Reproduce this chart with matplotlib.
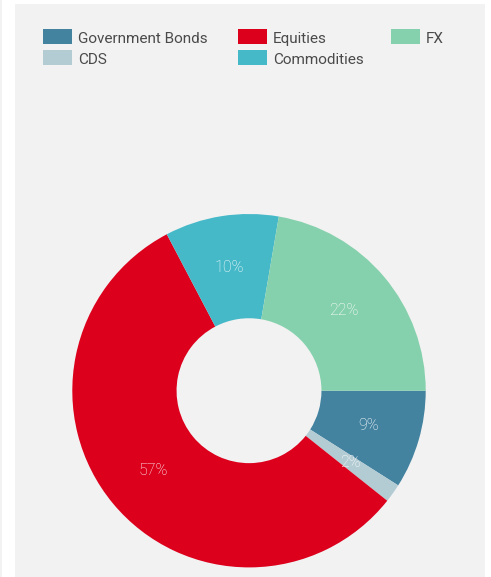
import matplotlib
matplotlib.use("Agg")
import matplotlib.pyplot as plt
from matplotlib.patches import Rectangle

categories = ["Government Bonds", "CDS", "Equities", "Commodities", "FX"]
values = [9.0, 1.7, 56.6, 10.4, 22.3]
colors = ["#4383a0", "#b3cbd3", "#dc001c", "#46b9c9", "#86d1ad"]
legend_order = ["Government Bonds", "Equities", "FX", "CDS", "Commodities"]

W, H = 491, 577
fig = plt.figure(figsize=(W / 100, H / 100), dpi=100)
fig.patch.set_facecolor("white")

def fx(px):
    return px / W

def fy(py):
    return 1 - py / H

# panel background
fig.patches.append(Rectangle((fx(15), 0), fx(485) - fx(15), fy(4), transform=fig.transFigure,
                             facecolor="#f2f2f2", edgecolor="none", zorder=-10))
fig.patches.append(Rectangle((0, 0), fx(2), 1, transform=fig.transFigure,
                             facecolor="#f2f2f2", edgecolor="none", zorder=-10))

# donut
cx, cy, R = 249, 390.7, 176.7
ax = fig.add_axes([fx(cx - R), fy(cy + R), 2 * R / W, 2 * R / H])
ax.set_zorder(5)
ax.set_facecolor("none")
wedges, texts, autotexts = ax.pie(
    values, colors=colors, startangle=0, counterclock=False,
    radius=1, pctdistance=0.705, autopct="%.0f%%",
    wedgeprops=dict(width=0.59, edgecolor="none"),
    textprops=dict(color="white", fontsize=11.5, family="Roboto", fontweight="light"),
)
ax.set_xlim(-1, 1)
ax.set_ylim(-1, 1)
ax.set_aspect("equal")
ax.axis("off")

# legend
col_x = [43, 238, 391]
row_y = [29, 50]
for i, name in enumerate(legend_order):
    r, c = divmod(i, 3)
    x0, y0 = col_x[c], row_y[r]
    col = colors[categories.index(name)]
    fig.patches.append(Rectangle((fx(x0), fy(y0 + 15)), 29 / W, 15 / H, transform=fig.transFigure,
                                 facecolor=col, edgecolor="none", zorder=2))
    fig.text(fx(x0 + 35), fy(y0 + 10), name, fontsize=11, family="Roboto", fontweight="normal",
             color="#4a4a4a", va="center", ha="left")

fig.savefig("out.png", dpi=100, facecolor=fig.get_facecolor())
